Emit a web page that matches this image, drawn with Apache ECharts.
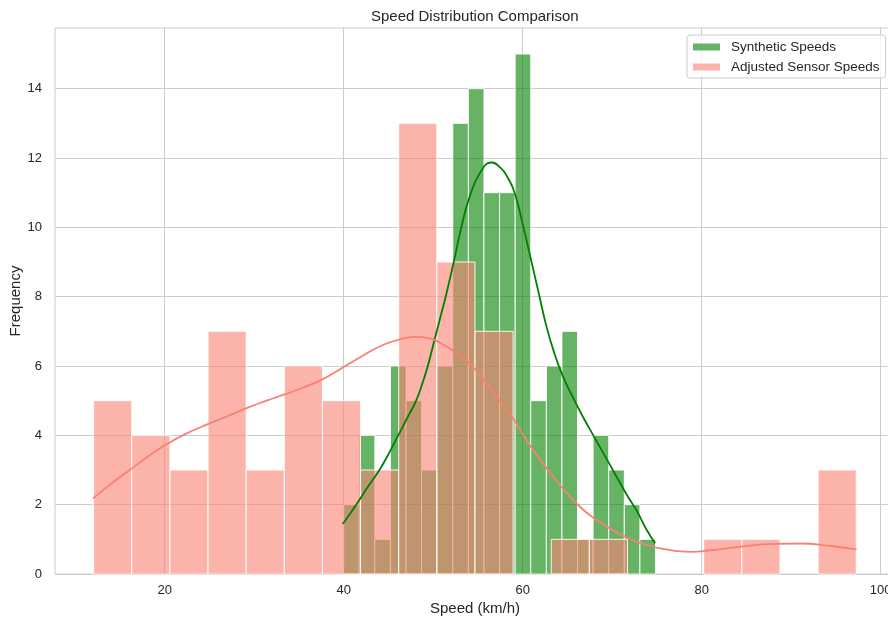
<!DOCTYPE html>
<html>
<head>
<meta charset="utf-8">
<script src="https://cdn.jsdelivr.net/npm/echarts@6/dist/echarts.min.js"></script>
<style>
  html, body { margin: 0; padding: 0; background: #ffffff; }
  #chart { width: 888px; height: 620px; }
</style>
</head>
<body>
<div id="chart"></div>
<script>
// Axis ticks
const xTicks = [20, 40, 60, 80, 100];
const yTicks = [0, 2, 4, 6, 8, 10, 12, 14];

// Synthetic speeds histogram (20 equal bins)
const synthBinStart = 40.0;
const synthBinWidth = 1.742;
const synthCounts = [2, 4, 1, 6, 5, 3, 6, 13, 14, 11, 11, 15, 5, 6, 7, 1, 4, 3, 2, 1];

// Adjusted sensor speeds histogram (20 equal bins)
const sensorBinStart = 12.07;
const sensorBinWidth = 4.26;
const sensorCounts = [5, 4, 3, 7, 3, 6, 5, 3, 13, 9, 7, 0, 1, 1, 0, 0, 1, 1, 0, 3];

// Kernel density estimates, scaled to counts: [speed, frequency]
const synthKde = [
  [39.9, 1.44], [41.4, 2.0], [42.8, 2.55], [44.0, 3.0], [45.1, 3.5], [46.1, 4.0],
  [47.2, 4.55], [48.1, 5.0], [48.8, 5.5], [49.4, 6.0], [49.9, 6.5], [50.4, 7.0],
  [50.9, 7.5], [51.4, 8.0], [52.3, 9.0], [53.15, 10.0], [54.1, 10.9], [55.3, 11.6],
  [56.5, 11.87], [57.6, 11.7], [58.4, 11.4], [59.1, 11.0], [60.0, 10.1], [60.9, 9.1],
  [61.8, 8.1], [62.6, 7.2], [63.5, 6.4], [64.5, 5.7], [65.6, 5.1], [66.7, 4.55],
  [68.0, 3.95], [69.2, 3.4], [70.4, 2.85], [71.6, 2.3], [72.8, 1.8], [73.8, 1.3], [74.8, 0.89]
];
const sensorKde = [
  [12.0, 2.18], [14.0, 2.6], [16.1, 3.0], [18.1, 3.38], [20.2, 3.74], [22.4, 4.05],
  [24.9, 4.33], [27.0, 4.55], [29.1, 4.78], [31.4, 5.0], [33.4, 5.18], [35.5, 5.38],
  [37.5, 5.6], [39.5, 5.89], [41.5, 6.2], [43.3, 6.47], [44.8, 6.65], [46.3, 6.77],
  [48.1, 6.84], [49.6, 6.8], [50.7, 6.68], [52.2, 6.45], [53.3, 6.25], [54.4, 5.98],
  [56.0, 5.5], [57.4, 5.02], [58.9, 4.5], [60.4, 3.87], [61.8, 3.35], [63.4, 2.81],
  [64.9, 2.35], [66.4, 1.94], [67.9, 1.62], [69.4, 1.37], [70.9, 1.15], [72.3, 0.98],
  [73.8, 0.84], [75.3, 0.74], [77.0, 0.67], [78.8, 0.64], [80.9, 0.68], [84.2, 0.78],
  [88.0, 0.87], [91.0, 0.88], [94.7, 0.8], [97.3, 0.71]
];

const GREEN = 'rgba(0,128,0,0.6)';
const SALMON = 'rgba(250,128,114,0.6)';
const FONT = '"Liberation Sans", Arial, sans-serif';
const TEXT = '#262626';
const GRID = '#cccccc';

function binsToRects(start, width, counts) {
  return counts.map((c, i) => [start + i * width, start + (i + 1) * width, c]);
}

function histRenderer(fill) {
  return function (params, api) {
    const count = api.value(2);
    if (!count) return null;
    const topLeft = api.coord([api.value(0), count]);
    const bottomRight = api.coord([api.value(1), 0]);
    return {
      type: 'rect',
      shape: {
        x: topLeft[0],
        y: topLeft[1],
        width: bottomRight[0] - topLeft[0],
        height: bottomRight[1] - topLeft[1]
      },
      style: { fill: fill, stroke: 'rgba(255,255,255,0.9)', lineWidth: 1 }
    };
  };
}

const chart = echarts.init(document.getElementById('chart'), null, { renderer: 'canvas' });

chart.setOption({
  animation: false,
  backgroundColor: '#ffffff',
  textStyle: { fontFamily: FONT },
  title: {
    text: 'Speed Distribution Comparison',
    left: 371,
    top: 9,
    padding: 0,
    textStyle: { fontFamily: FONT, fontSize: 15, fontWeight: 'normal', color: TEXT }
  },
  legend: {
    data: ['Synthetic Speeds', 'Adjusted Sensor Speeds'],
    orient: 'vertical',
    left: 687,
    top: 35,
    padding: [5, 6, 4, 6],
    itemGap: 6,
    itemWidth: 27,
    itemHeight: 7,
    icon: 'rect',
    borderColor: GRID,
    borderWidth: 1,
    borderRadius: 3,
    backgroundColor: 'rgba(255,255,255,0.8)',
    itemStyle: { borderWidth: 0 },
    textStyle: { fontFamily: FONT, fontSize: 13.5, color: TEXT, lineHeight: 14, padding: [0, 0, 0, 6] }
  },
  grid: {
    left: 55,
    right: -7,
    top: 28,
    bottom: 46,
    containLabel: false,
    outerBoundsMode: 'none',
    show: true,
    borderColor: GRID,
    borderWidth: 1
  },
  xAxis: {
    type: 'value',
    min: 7.75,
    max: 101.6,
    name: 'Speed (km/h)',
    nameLocation: 'middle',
    nameGap: 27,
    nameMoveOverlap: false,
    nameTextStyle: { fontFamily: FONT, fontSize: 15, color: TEXT },
    axisLine: { show: false },
    axisTick: { show: false, customValues: xTicks },
    axisLabel: { customValues: xTicks, margin: 10, fontFamily: FONT, fontSize: 13, color: TEXT },
    splitLine: { show: true, lineStyle: { color: GRID, width: 1 } }
  },
  yAxis: {
    type: 'value',
    min: 0,
    max: 15.75,
    name: 'Frequency',
    nameLocation: 'middle',
    nameGap: 32,
    nameMoveOverlap: false,
    nameTextStyle: { fontFamily: FONT, fontSize: 15, color: TEXT },
    axisLine: { show: false },
    axisTick: { show: false, customValues: yTicks },
    axisLabel: { customValues: yTicks, margin: 13, fontFamily: FONT, fontSize: 13, color: TEXT },
    splitLine: { show: true, lineStyle: { color: GRID, width: 1 } }
  },
  series: [
    {
      name: 'Synthetic Speeds',
      type: 'custom',
      renderItem: histRenderer(GREEN),
      itemStyle: { color: GREEN },
      encode: { x: [0, 1], y: 2 },
      data: binsToRects(synthBinStart, synthBinWidth, synthCounts),
      z: 2
    },
    {
      name: 'Adjusted Sensor Speeds',
      type: 'custom',
      renderItem: histRenderer(SALMON),
      itemStyle: { color: SALMON },
      encode: { x: [0, 1], y: 2 },
      data: binsToRects(sensorBinStart, sensorBinWidth, sensorCounts),
      z: 3
    },
    {
      name: 'Synthetic KDE',
      type: 'line',
      data: synthKde,
      smooth: true,
      showSymbol: false,
      lineStyle: { color: 'rgb(0,128,0)', width: 1.8 },
      itemStyle: { color: 'rgb(0,128,0)' },
      z: 5
    },
    {
      name: 'Sensor KDE',
      type: 'line',
      data: sensorKde,
      smooth: true,
      showSymbol: false,
      lineStyle: { color: 'rgb(250,128,114)', width: 1.8 },
      itemStyle: { color: 'rgb(250,128,114)' },
      z: 6
    }
  ]
});
</script>
</body>
</html>
